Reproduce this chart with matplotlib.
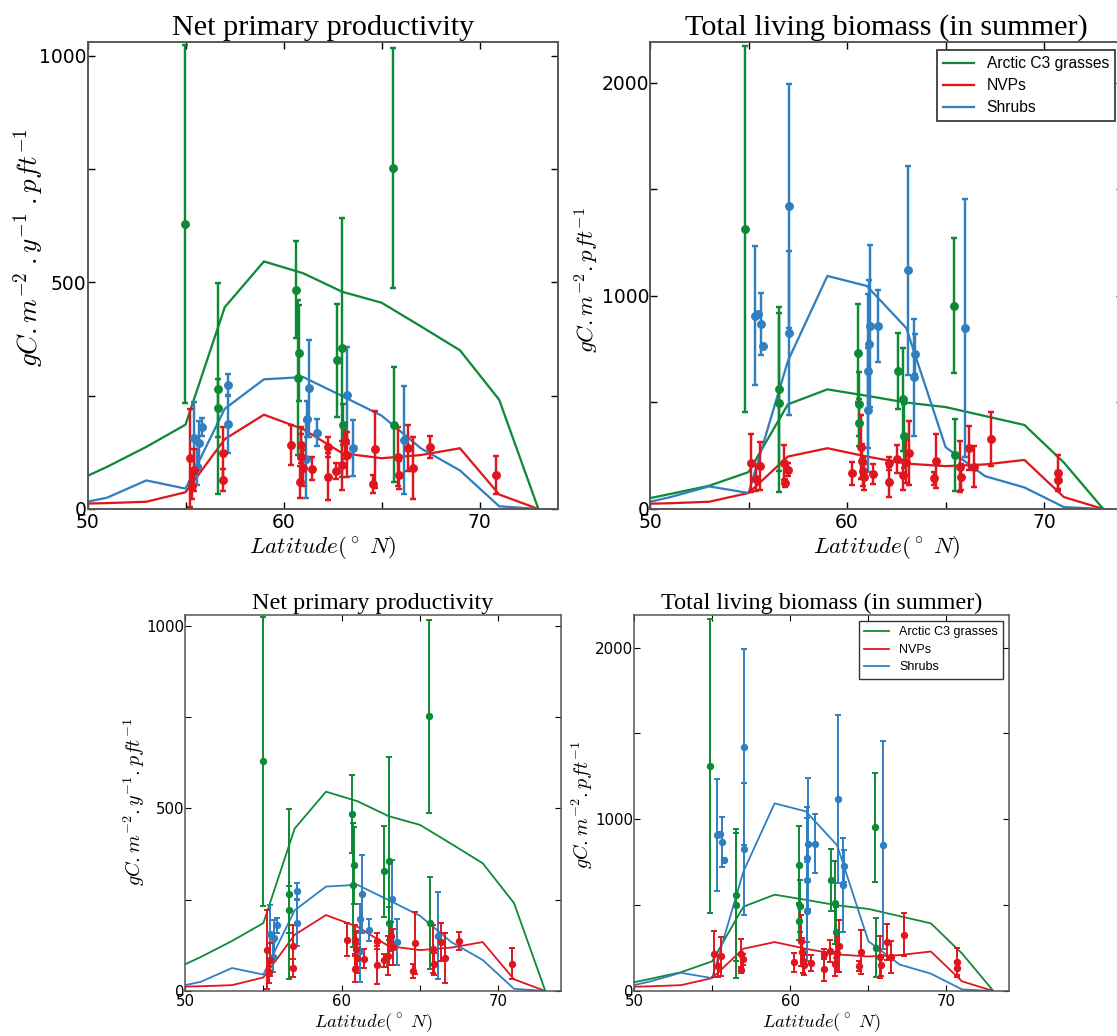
import matplotlib
matplotlib.use("Agg")
import matplotlib.pyplot as plt
from matplotlib.ticker import MultipleLocator, FixedLocator

plt.rcParams['mathtext.fontset'] = 'cm'

# ---------- model lines (latitude bands) ----------
model_lat = [50, 51, 53, 55, 57, 59, 61, 63, 65, 67, 69, 71, 73]

npp_grass = [73, 93, 137, 186, 445, 546, 520, 479, 455, 403, 350, 241, 0]
npp_nvp = [12, 13, 16, 37, 154, 208, 176, 123, 112, 119, 134, 32, 0]
npp_shrub = [16, 25, 63, 45, 221, 286, 291, 249, 206, 134, 85, 6, 0]

bio_grass = [51, 70, 109, 173, 491, 561, 531, 499, 478, 436, 394, 218, 0]
bio_nvp = [25, 27, 34, 75, 246, 285, 246, 213, 201, 209, 230, 56, 0]
bio_shrub = [34, 55, 106, 75, 695, 1093, 1046, 849, 290, 154, 101, 9, 0]

# ---------- site observations: latitude, value, error ----------
npp_obs_grass_lat = [54.95, 65.6, 56.65, 56.65, 60.65, 60.72, 60.8, 62.72, 63.0, 63.05, 65.62]
npp_obs_grass_val = [629, 752, 265, 223, 484, 290, 344, 328, 356, 186, 186]
npp_obs_grass_err = [395, 265, 233, 64, 107, 170, 105, 124, 285, 45, 127]

npp_obs_shrub_lat = [55.45, 55.7, 55.86, 55.6, 57.18, 57.18, 61.15, 61.2, 61.3, 61.72, 63.22, 63.56, 66.15]
npp_obs_shrub_val = [156, 145, 180, 93, 273, 187, 110, 198, 266, 168, 251, 134, 152]
npp_obs_shrub_err = [80, 50, 20, 40, 24, 64, 85, 40, 107, 30, 107, 62, 120]

npp_obs_nvp_lat = [55.21, 55.33, 55.45, 56.9, 56.9, 60.37, 60.88, 60.9, 60.85, 61.0, 61.45, 62.25, 62.25,
                   62.68, 62.97, 63.15, 63.25, 64.67, 64.58, 65.86, 65.9, 66.33, 66.6, 67.49, 70.86]
npp_obs_nvp_val = [113, 51, 86, 123, 64, 141, 141, 115, 60, 90, 89, 137, 71,
                   84, 97, 150, 120, 132, 55, 115, 75, 134, 91, 137, 75]
npp_obs_nvp_err = [108, 30, 46, 57, 25, 45, 40, 50, 35, 40, 25, 22, 52,
                   18, 54, 40, 50, 85, 19, 65, 30, 51, 68, 24, 42]

bio_obs_grass_lat = [54.84, 56.53, 56.55, 60.55, 60.62, 60.58, 62.6, 62.86, 62.91, 65.45, 65.48]
bio_obs_grass_val = [1311, 561, 498, 731, 494, 405, 647, 514, 342, 954, 253]
bio_obs_grass_err = [858, 384, 420, 230, 150, 110, 180, 243, 150, 317, 170]

bio_obs_shrub_lat = [57.04, 57.04, 55.33, 55.5, 55.62, 55.75, 61.08, 61.1, 61.15, 61.05, 61.57,
                     63.08, 63.37, 63.45, 65.96]
bio_obs_shrub_val = [1420, 826, 906, 914, 867, 765, 647, 772, 859, 464, 859, 1120, 617, 726, 850]
bio_obs_shrub_err = [572, 385, 326, 10, 145, 10, 360, 300, 380, 290, 170, 490, 273, 93, 605]

bio_obs_nvp_lat = [55.15, 55.4, 55.58, 56.82, 56.85, 56.98, 60.24, 60.7, 60.75, 60.8, 60.85, 61.34,
                   62.13, 62.13, 62.54, 62.84, 62.98, 63.15, 64.52, 64.42, 65.74, 65.8, 66.19,
                   66.43, 67.31, 70.69, 70.69]
bio_obs_nvp_val = [215, 143, 201, 218, 122, 184, 167, 293, 226, 176, 151, 164,
                   214, 128, 233, 158, 222, 261, 226, 144, 198, 150, 287,
                   198, 329, 167, 136]
bio_obs_nvp_err = [135, 60, 112, 84, 20, 30, 55, 150, 80, 70, 60, 45,
                   30, 70, 65, 70, 100, 150, 127, 30, 120, 60, 104,
                   96, 128, 84, 40]

GREEN = '#0e8a36'
RED = '#e0161e'
BLUE = '#2f7fc1'

W, H = 1117, 1036


def px_axes(fig, left, right, top, bottom):
    return fig.add_axes([left / W, (H - bottom) / H, (right - left) / W, (bottom - top) / H])


def draw_panel(ax, s, title, ylabel, ylsize, ylpos, ymax, ymajor, models, obs, legend=False):
    lw = 1.3 * s
    for lat, val, err, col in obs:
        ax.errorbar(lat, val, yerr=err, fmt='o', color=col, ecolor=col, mec=col,
                    ms=4.3 * s, elinewidth=1.4 * s, capsize=2.0 * s, capthick=1.4 * s, zorder=3)
    labels = ['Arctic C3 grasses', 'NVPs', 'Shrubs']
    for (vals, col), lab in zip(models, labels):
        ax.plot(model_lat, vals, color=col, lw=lw, label=lab, zorder=2)

    ax.set_xlim(50, 74)
    ax.set_ylim(0, ymax)
    ax.xaxis.set_major_locator(FixedLocator([50, 60, 70]))
    ax.xaxis.set_minor_locator(FixedLocator([55, 65]))
    ax.yaxis.set_major_locator(MultipleLocator(ymajor))
    ax.yaxis.set_minor_locator(MultipleLocator(ymajor / 2))
    ax.tick_params(which='both', direction='in', top=True, right=True,
                   length=4.0 * s, width=0.8 * s, labelsize=10.8 * s)
    ax.tick_params(axis='y', pad=0.5 * s)
    ax.tick_params(axis='x', pad=2.5 * s)
    for lbl in ax.get_xticklabels() + ax.get_yticklabels():
        lbl.set_fontfamily('DejaVu Sans')
    for sp in ax.spines.values():
        sp.set_color('#555555')
        sp.set_linewidth(1.1 * s)

    ax.set_title(title, fontsize=17.4 * s, family='Liberation Serif', pad=4 * s)
    ax.set_xlabel(r'$Latitude(^\circ\ N)$', fontsize=13.3 * s, labelpad=1 * s)
    ax.set_ylabel(ylabel, fontsize=ylsize)
    ax.yaxis.set_label_coords(*ylpos)

    if legend:
        leg = ax.legend(loc='upper right', fancybox=False, framealpha=1,
                        prop={'family': 'Liberation Sans', 'size': 9 * s},
                        handlelength=2.0, borderaxespad=0.5, labelspacing=0.45)
        leg.get_frame().set_edgecolor('#333333')
        leg.get_frame().set_linewidth(1.0 * s)


npp_models = [(npp_grass, GREEN), (npp_nvp, RED), (npp_shrub, BLUE)]
bio_models = [(bio_grass, GREEN), (bio_nvp, RED), (bio_shrub, BLUE)]
npp_obs = [(npp_obs_grass_lat, npp_obs_grass_val, npp_obs_grass_err, GREEN),
           (npp_obs_shrub_lat, npp_obs_shrub_val, npp_obs_shrub_err, BLUE),
           (npp_obs_nvp_lat, npp_obs_nvp_val, npp_obs_nvp_err, RED)]
bio_obs = [(bio_obs_grass_lat, bio_obs_grass_val, bio_obs_grass_err, GREEN),
           (bio_obs_shrub_lat, bio_obs_shrub_val, bio_obs_shrub_err, BLUE),
           (bio_obs_nvp_lat, bio_obs_nvp_val, bio_obs_nvp_err, RED)]

npp_ylabel = r'$gC.m^{-2}.y^{-1}.pft^{-1}$'
npp_ylabel_big = r'$gC.m^{-2}\;.y^{-1}\;.pft^{-1}$'
bio_ylabel = r'$gC.m^{-2}.pft^{-1}$'

fig = plt.figure(figsize=(W / 100, H / 100), dpi=100)

# top row: enlarged copy
ax1 = px_axes(fig, 87.5, 558, 42, 509)
draw_panel(ax1, 1.25, 'Net primary productivity', npp_ylabel_big, 19.5, (-0.088, 0.56),
           1030, 500, npp_models, npp_obs)
ax2 = px_axes(fig, 650, 1123, 42, 509)
draw_panel(ax2, 1.25, 'Total living biomass (in summer)', bio_ylabel, 16.5, (-0.104, 0.49),
           2190, 1000, bio_models, bio_obs, legend=True)

# bottom row
ax3 = px_axes(fig, 185, 561, 615, 991)
draw_panel(ax3, 1.0, 'Net primary productivity', npp_ylabel, 14.5, (-0.102, 0.504),
           1030, 500, npp_models, npp_obs)
ax4 = px_axes(fig, 634, 1009, 615, 991)
draw_panel(ax4, 1.0, 'Total living biomass (in summer)', bio_ylabel, 14.5, (-0.105, 0.495),
           2190, 1000, bio_models, bio_obs, legend=True)

fig.savefig('out.png', dpi=100)
